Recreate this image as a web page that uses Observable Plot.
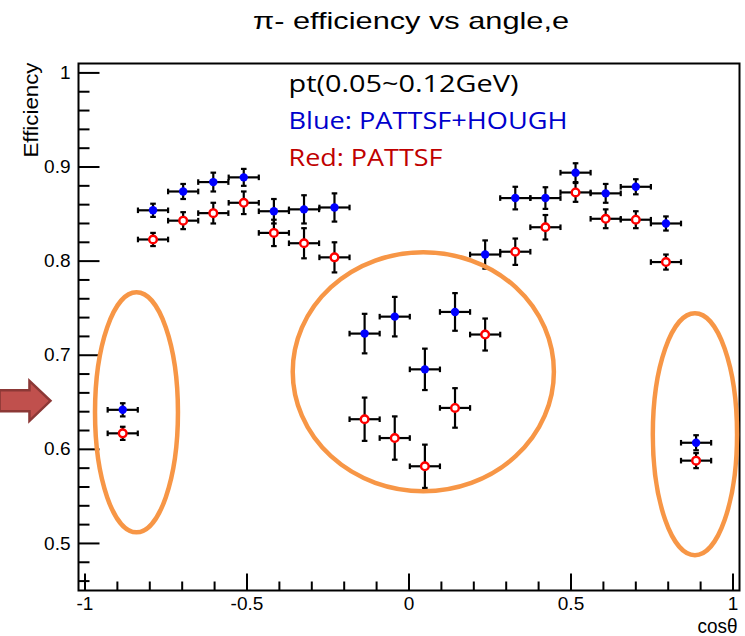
<!DOCTYPE html>
<html>
<head>
<meta charset="utf-8">
<script src="https://cdn.jsdelivr.net/npm/d3@7"></script>
<script src="https://cdn.jsdelivr.net/npm/@observablehq/plot@0.6"></script>
<style>
  html, body { margin: 0; padding: 0; background: #fff; }
</style>
</head>
<body>
<div id="chart"></div>
<script>
// ---- data ----
const cosTheta = [-0.8835, -0.790, -0.697, -0.604, -0.510, -0.417, -0.324, -0.230, -0.137, -0.044,
                   0.049,  0.142,  0.235,  0.328,  0.421,  0.514,  0.607,  0.700,  0.793,  0.886];
const binHalfWidth = 0.0465;
const effBlue = [0.642, 0.854, 0.874, 0.884, 0.889, 0.853, 0.855, 0.857, 0.723, 0.741,
                 0.685, 0.746, 0.807, 0.867, 0.867, 0.894, 0.872, 0.879, 0.840, 0.607];
const errBlue = [0.007, 0.007, 0.008, 0.010, 0.009, 0.013, 0.015, 0.015, 0.021, 0.021,
                 0.022, 0.020, 0.015, 0.012, 0.0115, 0.010, 0.010, 0.008, 0.0075, 0.008];
const effRed  = [0.617, 0.823, 0.843, 0.851, 0.862, 0.830, 0.819, 0.804, 0.632, 0.612,
                 0.582, 0.644, 0.722, 0.810, 0.836, 0.873, 0.845, 0.844, 0.799, 0.588];
const errRed  = [0.007, 0.007, 0.009, 0.011, 0.012, 0.014, 0.016, 0.016, 0.023, 0.023,
                 0.023, 0.021, 0.017, 0.014, 0.013, 0.010, 0.010, 0.009, 0.008, 0.008];

const yMajorTicks = [0.5, 0.6, 0.7, 0.8, 0.9, 1];
const yMinorTicks = [0.46, 0.48, 0.52, 0.54, 0.56, 0.58, 0.62, 0.64, 0.66, 0.68,
                     0.72, 0.74, 0.76, 0.78, 0.82, 0.84, 0.86, 0.88, 0.92, 0.94, 0.96, 0.98];
const xMajorTicks = [-1, -0.5, 0, 0.5, 1];
const xMinorTicks = [-0.9, -0.8, -0.7, -0.6, -0.4, -0.3, -0.2, -0.1,
                     0.1, 0.2, 0.3, 0.4, 0.6, 0.7, 0.8, 0.9];

const titleText = "π- efficiency vs angle,e";
const xLabel = "cosθ";
const yLabel = "Efficiency";
const legendLines = ["pt(0.05~0.12GeV)", "Blue: PATTSF+HOUGH", "Red: PATTSF"];
const legendColors = ["#000000", "#0000cc", "#c00000"];

// annotation ellipses (data units: centre and radii)
const ellipseCx = [-0.8395, 0.0457, 0.884];
const ellipseCy = [0.6388, 0.682, 0.6155];
const ellipseRx = [0.128, 0.403, 0.130];
const ellipseRy = [0.1275, 0.127, 0.1285];
// annotation arrow (data units)
const arrowY = 0.651;
const arrowX1 = -1.262;
const arrowX2 = -1.105;

const xDomain = [-1.02, 1.02];
const yDomain = [0.45, 1.01];

// ---- tables ----
const blue = cosTheta.map((x, i) => ({x, y: effBlue[i], e: errBlue[i]}));
const red  = cosTheta.map((x, i) => ({x, y: effRed[i], e: errRed[i]}));
const points = blue.concat(red);

// custom symbols
const capV = {draw(ctx) { ctx.moveTo(0, -2.8); ctx.lineTo(0, 2.8); }};
const capH = {draw(ctx) { ctx.moveTo(-2.8, 0); ctx.lineTo(2.8, 0); }};
const tickYMajor = {draw(ctx) { ctx.moveTo(0, 0); ctx.lineTo(21, 0); }};
const tickYMinor = {draw(ctx) { ctx.moveTo(0, 0); ctx.lineTo(11, 0); }};
const tickXMajor = {draw(ctx) { ctx.moveTo(0, 0); ctx.lineTo(0, -17); }};
const tickXMinor = {draw(ctx) { ctx.moveTo(0, 0); ctx.lineTo(0, -9); }};

function ellipsesMark(index, scales) {
  const g = d3.create("svg:g");
  ellipseCx.forEach((cx, i) => {
    const px = scales.x(cx), py = scales.y(ellipseCy[i]);
    g.append("ellipse")
      .attr("cx", px).attr("cy", py)
      .attr("rx", Math.abs(scales.x(cx + ellipseRx[i]) - px))
      .attr("ry", Math.abs(scales.y(ellipseCy[i] + ellipseRy[i]) - py))
      .attr("fill", "none").attr("stroke", "#f79646").attr("stroke-width", 4.5);
  });
  return g.node();
}

function arrowMark(index, scales) {
  const x1 = scales.x(arrowX1), x2 = scales.x(arrowX2), y = scales.y(arrowY);
  const headLen = 21, bodyH = 10.5, headH = 20;
  const xb = x2 - headLen;
  const pts = [[x1, y - bodyH], [xb, y - bodyH], [xb, y - headH], [x2, y],
               [xb, y + headH], [xb, y + bodyH], [x1, y + bodyH]];
  const g = d3.create("svg:g");
  g.append("polygon").attr("points", pts.map(p => p.join(",")).join(" "))
    .attr("fill", "#c0504d").attr("stroke", "#8c3836").attr("stroke-width", 2.5)
    .attr("stroke-linejoin", "miter");
  return g.node();
}

const chart = Plot.plot({
  width: 745,
  height: 636,
  marginLeft: 78,
  marginRight: 6,
  marginTop: 63,
  marginBottom: 46,
  style: {fontFamily: "'Liberation Sans', Arial, sans-serif", background: "#fff", overflow: "visible"},
  x: {domain: xDomain, label: null},
  y: {domain: yDomain, label: null},
  marks: [
    // ticks inside the frame (ROOT style)
    Plot.dot(yMajorTicks, {x: () => xDomain[0], y: d => d, symbol: tickYMajor, stroke: "black", strokeWidth: 2, fill: "none"}),
    Plot.dot(yMinorTicks, {x: () => xDomain[0], y: d => d, symbol: tickYMinor, stroke: "black", strokeWidth: 2, fill: "none"}),
    Plot.dot(xMajorTicks, {x: d => d, y: () => yDomain[0], symbol: tickXMajor, stroke: "black", strokeWidth: 2, fill: "none"}),
    Plot.dot(xMinorTicks, {x: d => d, y: () => yDomain[0], symbol: tickXMinor, stroke: "black", strokeWidth: 2, fill: "none"}),
    Plot.axisY({ticks: yMajorTicks, tickSize: 0, tickPadding: 8, fontSize: 19, tickFormat: d => String(d), label: null}),
    Plot.axisX({ticks: xMajorTicks, tickSize: 0, tickPadding: 6, fontSize: 19, tickFormat: d => String(d), label: null}),
    Plot.frame({stroke: "black", strokeWidth: 2}),
    // error bars
    Plot.ruleY(points, {y: "y", x1: d => d.x - binHalfWidth, x2: d => d.x + binHalfWidth, stroke: "black", strokeWidth: 2.2}),
    Plot.ruleX(points, {x: "x", y1: d => d.y - d.e, y2: d => d.y + d.e, stroke: "black", strokeWidth: 2.2}),
    Plot.dot(points, {x: d => d.x - binHalfWidth, y: "y", symbol: capV, stroke: "black", strokeWidth: 2.2, fill: "none"}),
    Plot.dot(points, {x: d => d.x + binHalfWidth, y: "y", symbol: capV, stroke: "black", strokeWidth: 2.2, fill: "none"}),
    Plot.dot(points, {x: "x", y: d => d.y - d.e, symbol: capH, stroke: "black", strokeWidth: 2.2, fill: "none"}),
    Plot.dot(points, {x: "x", y: d => d.y + d.e, symbol: capH, stroke: "black", strokeWidth: 2.2, fill: "none"}),
    // markers
    Plot.dot(blue, {x: "x", y: "y", r: 4.2, fill: "#0000ff", stroke: "none"}),
    Plot.dot(red, {x: "x", y: "y", r: 3.8, fill: "white", stroke: "#ff0000", strokeWidth: 2.4}),
    // annotations
    ellipsesMark,
    arrowMark,
    // texts
    Plot.text([titleText], {frameAnchor: "top", dx: 2, dy: -35, lineAnchor: "bottom", fontSize: 24, fill: "black"}),
    Plot.text([yLabel], {frameAnchor: "top-left", rotate: -90, textAnchor: "end", lineAnchor: "middle", dx: -47, dy: -1, fontSize: 20, fill: "black"}),
    Plot.text([xLabel], {frameAnchor: "bottom-right", textAnchor: "end", lineAnchor: "bottom", dx: -2, dy: 42, fontSize: 20, fill: "black"}),
    ...legendLines.map((t, i) => Plot.text([t], {
      frameAnchor: "top-left", textAnchor: "start", lineAnchor: "bottom",
      dx: 210, dy: 28.7 + i * 36.7, fontSize: 24, fill: legendColors[i],
      fontFamily: "'Open Sans', 'Noto Sans', sans-serif"
    }))
  ]
});

// match the stretched text widths of the reference
const widths = {
  [titleText]: 316,
  [yLabel]: 95,
  [xLabel]: 40,
  [legendLines[0]]: 230,
  [legendLines[1]]: 279,
  [legendLines[2]]: 154
};
d3.select(chart).selectAll("text").each(function() {
  const t = this.textContent;
  if (widths[t] && !this.querySelector("tspan")) {
    d3.select(this).attr("textLength", widths[t]).attr("lengthAdjust", "spacingAndGlyphs");
  }
});

document.getElementById("chart").appendChild(chart);
</script>
</body>
</html>
